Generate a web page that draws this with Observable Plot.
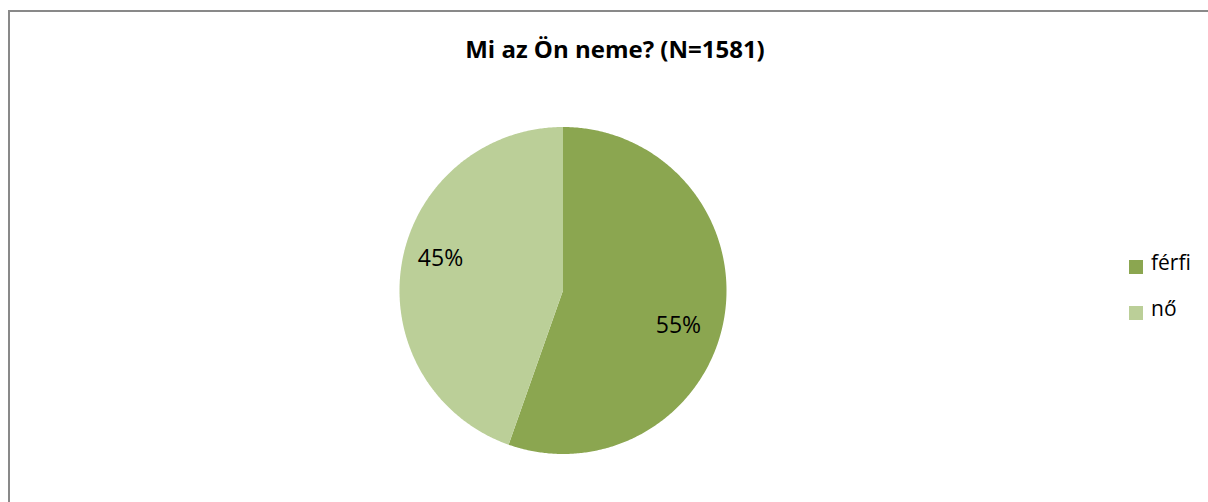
<!DOCTYPE html>
<html>
<head>
<meta charset="utf-8">
<script src="https://cdn.jsdelivr.net/npm/d3@7"></script>
<script src="https://cdn.jsdelivr.net/npm/@observablehq/plot@0.6"></script>
<style>
  html, body { margin: 0; padding: 0; background: #fff; }
  #wrap { position: relative; width: 1208px; height: 502px; overflow: hidden; font-family: "Open Sans", sans-serif; }
  #frame { position: absolute; left: 8px; top: 10px; width: 1400px; height: 700px; border-left: 2px solid #898989; border-top: 2px solid #898989; box-sizing: border-box; }
  #chart { position: absolute; left: 0; top: 0; }
  #title { position: absolute; left: 0; width: 1230px; top: 37px; text-align: center; font-weight: bold; font-size: 24px; line-height: 24px; color: #000; }
  #legend { position: absolute; left: 1129px; top: 260px; }
  .item { position: absolute; left: 0; white-space: nowrap; }
  .sw { position: absolute; left: 0; top: 0; width: 14px; height: 14px; }
  .lt { position: absolute; left: 22px; top: -13px; font-size: 21px; line-height: 30px; color: #000; }
</style>
</head>
<body>
<div id="wrap">
  <div id="frame"></div>
  <div id="chart"></div>
  <div id="title"></div>
  <div id="legend"></div>
</div>
<script>
const title = "Mi az Ön neme? (N=1581)";
const categories = ["férfi", "nő"];
const shares = [55.4, 44.6];
const labels = ["55%", "45%"];
const colors = ["#8BA650", "#BBCF98"];
const labelDy = [14, -11];
const labelDx = [-7, 0];

document.getElementById("title").textContent = title;

const data = categories.map((c, i) => ({name: c, value: shares[i], label: labels[i], color: colors[i], dy: labelDy[i], dx: labelDx[i]}));
const arcs = d3.pie().sort(null).value(d => d.value).startAngle(0).endAngle(2 * Math.PI)(data);

const pts = [];
arcs.forEach(a => {
  const n = Math.max(2, Math.ceil((a.endAngle - a.startAngle) / (Math.PI / 360)));
  pts.push({name: a.data.name, x: 0, y: 0});
  for (let k = 0; k <= n; k++) {
    const t = a.startAngle + (a.endAngle - a.startAngle) * k / n;
    pts.push({name: a.data.name, x: Math.sin(t), y: Math.cos(t)});
  }
  pts.push({name: a.data.name, x: 0, y: 0});
});

const lr = 0.76;
const labelPts = arcs.map(a => {
  const m = (a.startAngle + a.endAngle) / 2;
  return {label: a.data.label, x: lr * Math.sin(m), y: lr * Math.cos(m), dy: a.data.dy, dx: a.data.dx};
});

const cx = 562.5, cy = 290, r = 163.5;
const plot = Plot.plot({
  width: 1208,
  height: 502,
  margin: 0,
  x: {domain: [-1, 1], range: [cx - r, cx + r], axis: null},
  y: {domain: [-1, 1], range: [cy + r, cy - r], axis: null},
  color: {domain: categories, range: colors},
  style: {background: "transparent", fontFamily: "Open Sans, sans-serif"},
  marks: [
    Plot.line(pts, {x: "x", y: "y", z: "name", fill: "name", stroke: null, curve: "linear"}),
    ...labelPts.map(p => Plot.text([p], {x: "x", y: "y", text: "label", dx: p.dx, dy: p.dy, fontSize: 23, fill: "#000"}))
  ]
});
document.getElementById("chart").appendChild(plot);

const leg = document.getElementById("legend");
categories.forEach((c, i) => {
  const it = document.createElement("div");
  it.className = "item";
  it.style.top = (i * 46) + "px";
  const sw = document.createElement("div");
  sw.className = "sw";
  sw.style.background = colors[i];
  const t = document.createElement("div");
  t.className = "lt";
  t.textContent = c;
  it.appendChild(sw);
  it.appendChild(t);
  leg.appendChild(it);
});
</script>
</body>
</html>
